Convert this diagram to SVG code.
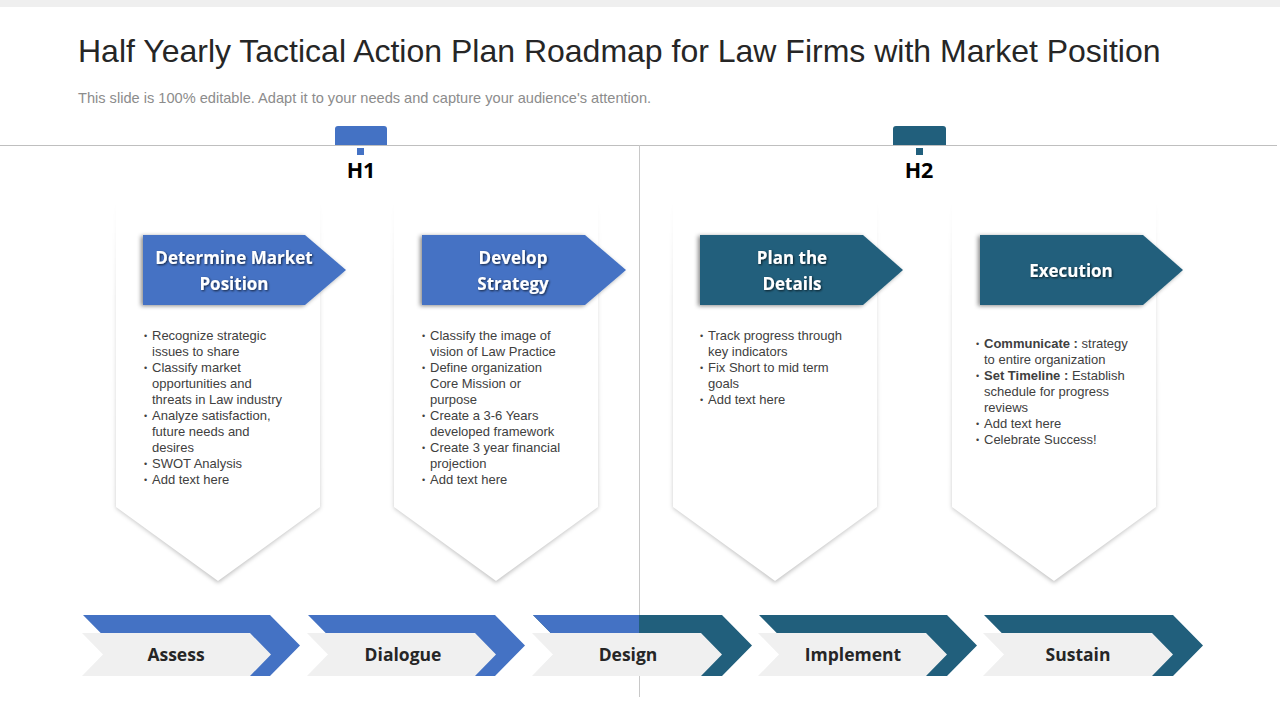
<svg xmlns="http://www.w3.org/2000/svg" width="1280" height="720" viewBox="0 0 1280 720">
<style>
.title{font-family:"Liberation Sans",Arial,sans-serif;font-size:32px;fill:#262626}
.sub{font-family:"Liberation Sans",Arial,sans-serif;font-size:14.6px;fill:#8c8c8c}
.h{font-family:"Open Sans","Liberation Sans",sans-serif;font-weight:bold;font-size:21.5px;fill:#000;text-anchor:middle}
.hd{font-family:"Open Sans","Liberation Sans",sans-serif;font-weight:bold;font-size:17px;fill:#fff;text-anchor:middle}
.bl{font-family:"Liberation Sans",Arial,sans-serif;font-size:13px;fill:#404040}
.bt{font-family:"Liberation Sans",Arial,sans-serif;font-size:9px;fill:#404040}
.lb{font-family:"Open Sans","Liberation Sans",sans-serif;font-weight:bold;font-size:17.5px;fill:#262626;text-anchor:middle}
.blue{fill:#4472c4}
.teal{fill:#215f7c}
.card{fill:#fff}
.cshadow{fill:url(#shgrad);filter:url(#blur)}
.gray{fill:#f0f0f0}
</style>
<defs>
<linearGradient id="shgrad" x1="0" y1="0" x2="0" y2="1">
<stop offset="0" stop-color="#000" stop-opacity="0"/>
<stop offset="0.25" stop-color="#000" stop-opacity="0.12"/>
<stop offset="1" stop-color="#000" stop-opacity="0.25"/>
</linearGradient>
<filter id="blur" x="-10%" y="-10%" width="120%" height="120%"><feGaussianBlur stdDeviation="2"/></filter>
<filter id="hshadow" x="-10%" y="-10%" width="120%" height="130%"><feDropShadow dx="-2" dy="1" stdDeviation="2" flood-color="#000" flood-opacity="0.45"/></filter>
<filter id="tshadow" x="-10%" y="-20%" width="120%" height="140%"><feDropShadow dx="1" dy="1" stdDeviation="0.8" flood-color="#000" flood-opacity="0.7"/></filter>
</defs>
<rect x="0" y="0" width="1280" height="720" fill="#fff"/>
<rect x="0" y="0" width="1280" height="7" fill="#efefef"/>
<text class="title" x="78" y="62">Half Yearly Tactical Action Plan Roadmap for Law Firms with Market Position</text>
<text class="sub" x="78" y="103">This slide is 100% editable. Adapt it to your needs and capture your audience's attention.</text>

<g id="timeline">
<line x1="0" y1="145.5" x2="1277" y2="145.5" stroke="#bfbfbf" stroke-width="1"/>
<line x1="639.5" y1="145" x2="639.5" y2="697" stroke="#c8c8c8" stroke-width="1"/>
</g>

<g id="h1">
<path class="blue" d="M335,145 V129 Q335,126 338,126 H384 Q387,126 387,129 V145 Z"/>
<rect class="blue" x="357" y="148" width="7" height="7"/>
<text class="h" x="361" y="178">H1</text>
</g>
<g id="h2">
<path class="teal" d="M893,145 V129 Q893,126 896,126 H943 Q946,126 946,129 V145 Z"/>
<rect class="teal" x="916" y="148" width="7" height="7"/>
<text class="h" x="919" y="178">H2</text>
</g>

<g id="card1">
<polygon class="cshadow" points="116,200 320,200 320,508 218,583 116,508"/>
<polygon class="card" points="116,198 320,198 320,507 218,581 116,507"/>
<polygon class="blue" filter="url(#hshadow)" points="143,235 305,235 346,270 305,305 143,305"/>
<g filter="url(#tshadow)"><text class="hd" x="234" y="264">Determine Market</text><text class="hd" x="234" y="290">Position</text></g>
<g class="bt"><text x="144" y="339">•</text><text x="144" y="371">•</text><text x="144" y="419">•</text><text x="144" y="467">•</text><text x="144" y="483">•</text></g>
<g class="bl">
<text x="152" y="340">Recognize strategic</text>
<text x="152" y="356">issues to share</text>
<text x="152" y="372">Classify market</text>
<text x="152" y="388">opportunities and</text>
<text x="152" y="404">threats in Law industry</text>
<text x="152" y="420">Analyze satisfaction,</text>
<text x="152" y="436">future needs and</text>
<text x="152" y="452">desires</text>
<text x="152" y="468">SWOT Analysis</text>
<text x="152" y="484">Add text here</text>
</g>
</g>

<g id="card2">
<polygon class="cshadow" points="394,200 598,200 598,508 496,583 394,508"/>
<polygon class="card" points="394,198 598,198 598,507 496,581 394,507"/>
<polygon class="blue" filter="url(#hshadow)" points="422,235 585,235 626,270 585,305 422,305"/>
<g filter="url(#tshadow)"><text class="hd" x="513" y="264">Develop</text><text class="hd" x="513" y="290">Strategy</text></g>
<g class="bt"><text x="422" y="339">•</text><text x="422" y="371">•</text><text x="422" y="419">•</text><text x="422" y="451">•</text><text x="422" y="483">•</text></g>
<g class="bl">
<text x="430" y="340">Classify the image of</text>
<text x="430" y="356">vision  of Law Practice</text>
<text x="430" y="372">Define  organization</text>
<text x="430" y="388">Core Mission or</text>
<text x="430" y="404">purpose</text>
<text x="430" y="420">Create a 3-6 Years</text>
<text x="430" y="436">developed  framework</text>
<text x="430" y="452">Create 3 year financial</text>
<text x="430" y="468">projection</text>
<text x="430" y="484">Add text here</text>
</g>
</g>

<g id="card3">
<polygon class="cshadow" points="673,200 877,200 877,508 775,583 673,508"/>
<polygon class="card" points="673,198 877,198 877,507 775,581 673,507"/>
<polygon class="teal" filter="url(#hshadow)" points="700,235 863,235 903,270 863,305 700,305"/>
<g filter="url(#tshadow)"><text class="hd" x="792" y="264">Plan the</text><text class="hd" x="792" y="290">Details</text></g>
<g class="bt"><text x="700" y="339">•</text><text x="700" y="371">•</text><text x="700" y="403">•</text></g>
<g class="bl">
<text x="708" y="340">Track progress through</text>
<text x="708" y="356">key indicators</text>
<text x="708" y="372">Fix Short to mid term</text>
<text x="708" y="388">goals</text>
<text x="708" y="404">Add text here</text>
</g>
</g>

<g id="card4">
<polygon class="cshadow" points="952,200 1156,200 1156,508 1054,583 952,508"/>
<polygon class="card" points="952,198 1156,198 1156,507 1054,581 952,507"/>
<polygon class="teal" filter="url(#hshadow)" points="980,235 1143,235 1183,270 1143,305 980,305"/>
<g filter="url(#tshadow)"><text class="hd" x="1071" y="277">Execution</text></g>
<g class="bt"><text x="976" y="347">•</text><text x="976" y="379">•</text><text x="976" y="427">•</text><text x="976" y="443">•</text></g>
<g class="bl">
<text x="984" y="348"><tspan font-weight="bold">Communicate :</tspan> strategy</text>
<text x="984" y="364">to entire organization</text>
<text x="984" y="380"><tspan font-weight="bold">Set Timeline :</tspan> Establish</text>
<text x="984" y="396">schedule for progress</text>
<text x="984" y="412">reviews</text>
<text x="984" y="428">Add  text here</text>
<text x="984" y="444">Celebrate  Success!</text>
</g>
</g>

<g id="stage-assess">
<polygon class="blue" points="83,615 270,615 300,645.5 270,676 83,676 113,645.5"/>
<polygon class="gray" points="82,633 250,633 271,654.5 250,676 82,676 103,654.5"/>
<text class="lb" x="176" y="661">Assess</text>
</g>
<g id="stage-dialogue">
<polygon class="blue" points="308,615 495,615 525,645.5 495,676 308,676 338,645.5"/>
<polygon class="gray" points="307,633 475,633 496,654.5 475,676 307,676 328,654.5"/>
<text class="lb" x="403" y="661">Dialogue</text>
</g>
<g id="stage-design">
<polygon class="teal" points="533,615 722,615 752,645.5 722,676 533,676 563,645.5"/>
<polygon class="blue" points="533,615 639,615 639,676 533,676 563,645.5"/>
<polygon class="gray" points="532,633 701,633 722,654.5 701,676 532,676 553,654.5"/>
<text class="lb" x="628" y="661">Design</text>
</g>
<g id="stage-implement">
<polygon class="teal" points="759,615 947,615 977,645.5 947,676 759,676 789,645.5"/>
<polygon class="gray" points="758,633 926,633 947,654.5 926,676 758,676 779,654.5"/>
<text class="lb" x="853" y="661">Implement</text>
</g>
<g id="stage-sustain">
<polygon class="teal" points="984,615 1173,615 1203,645.5 1173,676 984,676 1014,645.5"/>
<polygon class="gray" points="983,633 1152,633 1173,654.5 1152,676 983,676 1004,654.5"/>
<text class="lb" x="1078" y="661">Sustain</text>
</g>
<line x1="639.5" y1="676" x2="639.5" y2="697" stroke="#c8c8c8" stroke-width="1"/>
</svg>
